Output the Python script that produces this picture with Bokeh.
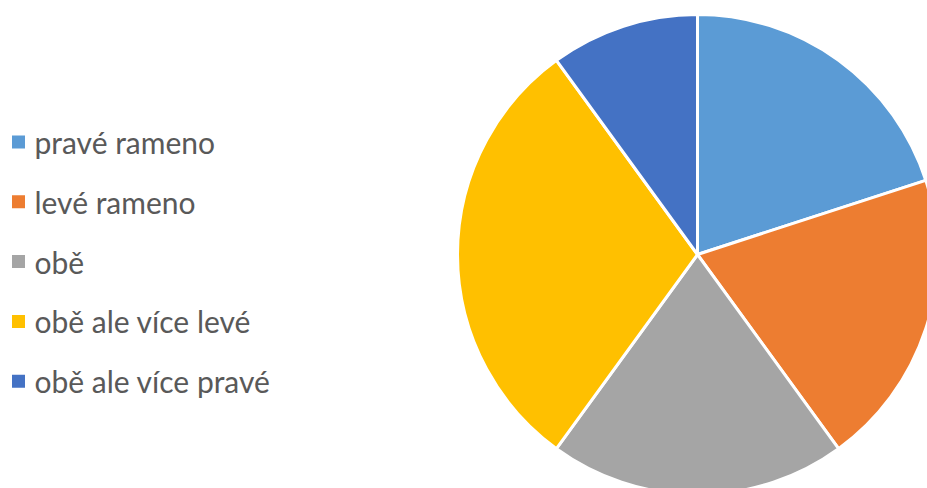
import math
import numpy as np
from bokeh.plotting import figure
from bokeh.models import Range1d, ColumnDataSource
from bokeh.core.properties import value
from bokeh.embed import file_html
from bokeh.resources import INLINE

categories = ["pravé rameno", "levé rameno", "obě", "obě ale více levé", "obě ale více pravé"]
values = [2, 2, 2, 3, 1]
colors = ["#5B9BD5", "#ED7D31", "#A5A5A5", "#FFC000", "#4472C4"]

W, H = 927, 488
p = figure(width=W, height=H, x_range=Range1d(0, W), y_range=Range1d(0, H),
           output_backend="svg", toolbar_location=None, min_border=0)
p.axis.visible = False
p.grid.visible = False
p.outline_line_color = None
p.background_fill_color = "white"
p.border_fill_color = "white"

total = sum(values)
fracs = np.array(values) / total
cum = np.concatenate([[0], np.cumsum(fracs)])
start = math.pi / 2 - cum[1:] * 2 * math.pi
end = math.pi / 2 - cum[:-1] * 2 * math.pi

cx, cy, r = 697, H - 254, 240
src = ColumnDataSource(dict(start=start, end=end, color=colors))
p.wedge(x=cx, y=cy, radius=r, start_angle="start", end_angle="end",
        fill_color="color", line_color="white", line_width=3, source=src)

ly = [H - (141.5 + i * 59.8) for i in range(len(categories))]
lsrc = ColumnDataSource(dict(x=[18] * len(categories), tx=[34] * len(categories), y=ly,
                             label=categories, color=colors))
p.scatter(x="x", y="y", size=13, marker="square", fill_color="color", line_color=None, source=lsrc)
p.text(x="tx", y="y", text="label", text_font=value("Lato"), text_font_size="30px",
       text_color="#595959", text_baseline="middle", text_align="left", source=lsrc)

open("out.html", "w").write(file_html(p, INLINE))
